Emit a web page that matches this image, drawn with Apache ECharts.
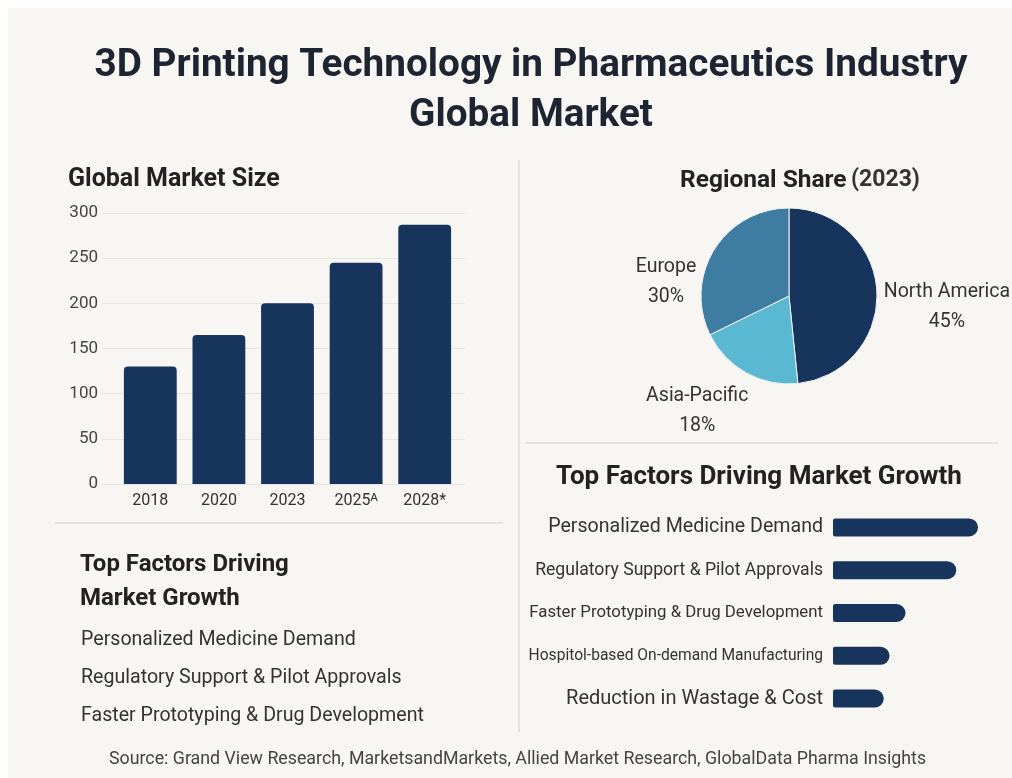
<!DOCTYPE html>
<html>
<head>
<meta charset="utf-8">
<script src="https://cdn.jsdelivr.net/npm/echarts@6/dist/echarts.min.js"></script>
<style>
html,body{margin:0;padding:0;background:#ffffff;}
#chart{width:1012px;height:778px;}
</style>
</head>
<body>
<div id="chart"></div>
<script>
// ---- data ----
const years = ['2018', '2020', '2023', '2025ᴬ', '2028*'];
const marketSize = [130, 165, 200, 245, 287];
const yTicks = [0, 50, 100, 150, 200, 250, 300];

const regions = ['North America', 'Asia-Pacific', 'Europe'];
const regionShare = [45, 18, 30];

const factors = [
  'Personalized Medicine Demand',
  'Regulatory Support & Pilot Approvals',
  'Faster Prototyping & Drug Development',
  'Hospitol-based On-demand Manufacturing',
  'Reduction in Wastage & Cost'
];
const factorScore = [100, 85, 50, 39, 35];
const leftFactors = factors.slice(0, 3);

// ---- styles ----
const FONT = 'Roboto, "Liberation Sans", sans-serif';
const NAVY = '#17355c';
const pieColors = ['#17355c', '#5bb8d2', '#3e7ca2'];
const factorFont = [19.6, 17.6, 16.8, 15.6, 20];
const pieLabelShift = [[-5, 16], [14, 33], [-4, 36]];

const chart = echarts.init(document.getElementById('chart'), null, {renderer: 'canvas'});

const option = {
  backgroundColor: '#ffffff',
  textStyle: {fontFamily: FONT},
  animation: false,
  title: [
    {
      text: '3D Printing Technology in Pharmaceutics Industry\nGlobal Market',
      left: 526, top: 36, textAlign: 'center',
      textStyle: {fontSize: 38.7, fontWeight: 'bold', lineHeight: 50, color: '#1e2532', fontFamily: FONT}
    },
    {
      text: 'Global Market Size', left: 63, top: 162,
      textStyle: {fontSize: 25, fontWeight: 'bold', color: '#222', fontFamily: FONT}
    },
    {
      text: '{b|Regional Share} {n|(2023)}', left: 675, top: 163,
      textStyle: {
        rich: {
          b: {fontSize: 24.5, fontWeight: 'bold', color: '#222', fontFamily: FONT},
          n: {fontSize: 23, color: '#333', fontFamily: FONT}
        }
      }
    },
    {
      text: 'Top Factors Driving Market Growth', left: 551, top: 459,
      textStyle: {fontSize: 26, fontWeight: 'bold', color: '#222', fontFamily: FONT}
    },
    {
      text: 'Top Factors Driving\nMarket Growth', left: 75, top: 543,
      textStyle: {fontSize: 24, fontWeight: 'bold', color: '#222', lineHeight: 34, fontFamily: FONT}
    },
    {
      text: leftFactors.join('\n'), left: 76, top: 616,
      textStyle: {fontSize: 19.6, fontWeight: 'normal', color: '#333', lineHeight: 38, fontFamily: FONT}
    },
    {
      text: 'Source: Grand View Research, MarketsandMarkets, Allied Market Research, GlobalData Pharma Insights',
      left: 104, top: 746,
      textStyle: {fontSize: 17.8, fontWeight: 'normal', color: '#444', fontFamily: FONT}
    }
  ],
  graphic: [
    {type: 'rect', z: -100, shape: {x: 8, y: 8, width: 1004, height: 770}, style: {fill: '#f8f6f3'}, silent: true},
    {type: 'line', z: -50, shape: {x1: 519, y1: 160, x2: 519, y2: 732}, style: {stroke: '#e4e3e1', lineWidth: 2}, silent: true},
    {type: 'line', z: -50, shape: {x1: 55, y1: 523, x2: 503, y2: 523}, style: {stroke: '#e4e3e1', lineWidth: 2}, silent: true},
    {type: 'line', z: -50, shape: {x1: 525, y1: 443, x2: 998, y2: 443}, style: {stroke: '#e4e3e1', lineWidth: 2}, silent: true}
  ],
  grid: [
    {left: 102, width: 363, top: 213, height: 271},  // gridlines
    {left: 116, width: 343, top: 213, height: 271},  // bars
    {left: 833, width: 145, top: 506, height: 214}   // factor bars
  ],
  xAxis: [
    {gridIndex: 0, type: 'category', data: years, show: false},
    {gridIndex: 1, type: 'category', data: years,
      axisLine: {show: false}, axisTick: {show: false},
      axisLabel: {fontSize: 16, color: '#333', margin: 9, fontFamily: FONT}},
    {gridIndex: 2, type: 'value', min: 0, max: 100, show: false}
  ],
  yAxis: [
    {gridIndex: 0, type: 'value', min: yTicks[0], max: yTicks[yTicks.length - 1], interval: 50,
      axisLine: {show: false}, axisTick: {show: false},
      axisLabel: {fontSize: 17, color: '#444', margin: 4, fontFamily: FONT},
      splitLine: {lineStyle: {color: '#e6e5e3', width: 1}}},
    {gridIndex: 1, type: 'value', min: yTicks[0], max: yTicks[yTicks.length - 1], interval: 50, show: false},
    {gridIndex: 2, type: 'category', inverse: true,
      data: factors.map((f, i) => ({value: f, textStyle: {fontSize: factorFont[i]}})),
      axisLine: {show: false}, axisTick: {show: false},
      axisLabel: {color: '#333', margin: 10, fontFamily: FONT}}
  ],
  series: [
    {
      type: 'bar', xAxisIndex: 1, yAxisIndex: 1, data: marketSize,
      barCategoryGap: '23%',
      itemStyle: {color: NAVY, borderRadius: [4, 4, 0, 0]}
    },
    {
      type: 'bar', xAxisIndex: 2, yAxisIndex: 2, data: factorScore,
      barWidth: 18,
      itemStyle: {color: NAVY, borderRadius: [2, 9, 9, 2]}
    },
    {
      type: 'pie', center: [789, 296], radius: 88, startAngle: 90, clockwise: true,
      data: regions.map((r, i) => ({name: r, value: regionShare[i], itemStyle: {color: pieColors[i]}})),
      itemStyle: {borderColor: '#f3f3f3', borderWidth: 1},
      label: {
        show: true, position: 'outside', overflow: 'none', bleedMargin: 0,
        formatter: '{n|{b}}\n{n|{c}%}',
        rich: {n: {fontSize: 19.5, color: '#333', align: 'center', lineHeight: 30, fontFamily: FONT}}
      },
      labelLine: {show: false, length: 6, length2: 4},
      labelLayout: function (p) {
        const s = pieLabelShift[p.dataIndex];
        return {dx: s[0], dy: s[1]};
      },
      emphasis: {disabled: true}
    }
  ]
};
chart.setOption(option);
</script>
</body>
</html>
